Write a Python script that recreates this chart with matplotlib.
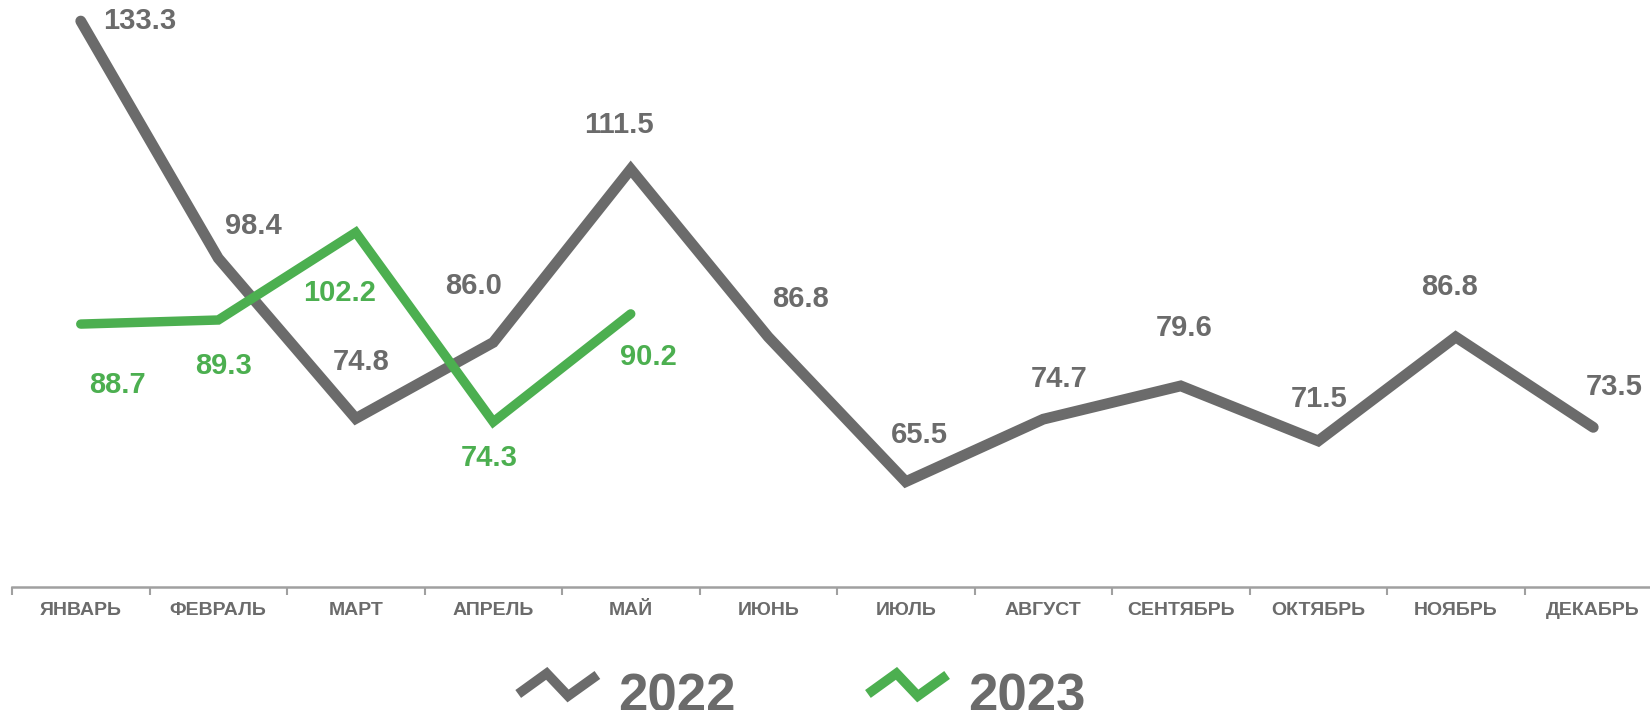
import matplotlib
matplotlib.use("Agg")
import matplotlib.pyplot as plt
from matplotlib.lines import Line2D
from matplotlib.legend_handler import HandlerBase

months = ["ЯНВАРЬ", "ФЕВРАЛЬ", "МАРТ", "АПРЕЛЬ", "МАЙ", "ИЮНЬ", "ИЮЛЬ",
          "АВГУСТ", "СЕНТЯБРЬ", "ОКТЯБРЬ", "НОЯБРЬ", "ДЕКАБРЬ"]
values_2022 = [133.3, 98.4, 74.8, 86.0, 111.5, 86.8, 65.5, 74.7, 79.6, 71.5, 86.8, 73.5]
values_2023 = [88.7, 89.3, 102.2, 74.3, 90.2]
series_names = ["2022", "2023"]

# label offsets (pixels)
off_2022 = [(59, 0), (35, 32), (5, 57), (-20, 56), (-12, 44), (32, 38), (14, 47),
            (16, 40), (3, 58), (1, 42), (-6, 50), (21, 40)]
off_2023 = [(37, -61), (5, -46), (-16, -61), (-4, -36), (18, -43)]

GRAY = "#6b6b6b"
GREEN = "#4caf50"
plt.rcParams['font.family'] = ['Liberation Sans', 'DejaVu Sans']

fig = plt.figure(figsize=(16.5, 7.1), dpi=100)
ax = fig.add_axes([12 / 1650, (710 - 587) / 710, 1650 / 1650, 587 / 710])
ax.set_xlim(-0.5, 11.5)
ax.set_ylim(50, 136.4)

x22 = list(range(len(values_2022)))
x23 = list(range(len(values_2023)))
ax.plot(x22, values_2022, color=GRAY, lw=7.8, solid_capstyle='round',
        solid_joinstyle='miter', zorder=2)
ax.plot(x23, values_2023, color=GREEN, lw=6.8, solid_capstyle='round',
        solid_joinstyle='miter', zorder=3)

for x, v, o in zip(x22, values_2022, off_2022):
    ax.annotate(f"{v:.1f}", (x, v), xytext=o, textcoords='offset pixels',
                ha='center', va='center', fontsize=21, fontweight='bold',
                color=GRAY, zorder=4, annotation_clip=False)
for x, v, o in zip(x23, values_2023, off_2023):
    ax.annotate(f"{v:.1f}", (x, v), xytext=o, textcoords='offset pixels',
                ha='center', va='center', fontsize=21, fontweight='bold',
                color=GREEN, zorder=4, annotation_clip=False)

for s in ['top', 'left', 'right']:
    ax.spines[s].set_visible(False)
ax.spines['bottom'].set_color('#a0a0a0')
ax.spines['bottom'].set_linewidth(1.8)
ax.set_yticks([])
ax.set_xticks(x22)
ax.set_xticklabels(months, fontsize=14, fontweight='bold', color=GRAY)
ax.tick_params(axis='x', which='major', length=0, pad=11)
ax.set_xticks([i - 0.5 for i in range(len(months) + 1)], minor=True)
ax.tick_params(axis='x', which='minor', length=6, width=1.5, color='#a0a0a0')


class ZigZagHandler(HandlerBase):
    def create_artists(self, legend, orig_handle, xdescent, ydescent, width,
                       height, fontsize, trans):
        x0 = -xdescent
        cy = -ydescent + height / 2 + 0.16 * fontsize
        xs = [x0, x0 + 0.36 * width, x0 + 0.63 * width, x0 + width]
        ys = [cy - 0.12 * width, cy + 0.14 * width, cy - 0.145 * width, cy + 0.12 * width]
        ln = Line2D(xs, ys, color=orig_handle.get_color(), lw=7,
                    solid_joinstyle='miter', solid_capstyle='butt', transform=trans)
        return [ln]


h1 = Line2D([], [], color=GRAY)
h2 = Line2D([], [], color=GREEN)
leg = fig.legend([h1, h2], series_names, loc='upper center',
                 bbox_to_anchor=(0.486, (710 - 646) / 710), ncol=2, frameon=False,
                 borderpad=0, handlelength=1.5, handletextpad=0.4,
                 columnspacing=2.5, handler_map={Line2D: ZigZagHandler()},
                 prop={'size': 38, 'weight': 'bold'})
for t in leg.get_texts():
    t.set_color(GRAY)

fig.savefig("out.png", dpi=100)
